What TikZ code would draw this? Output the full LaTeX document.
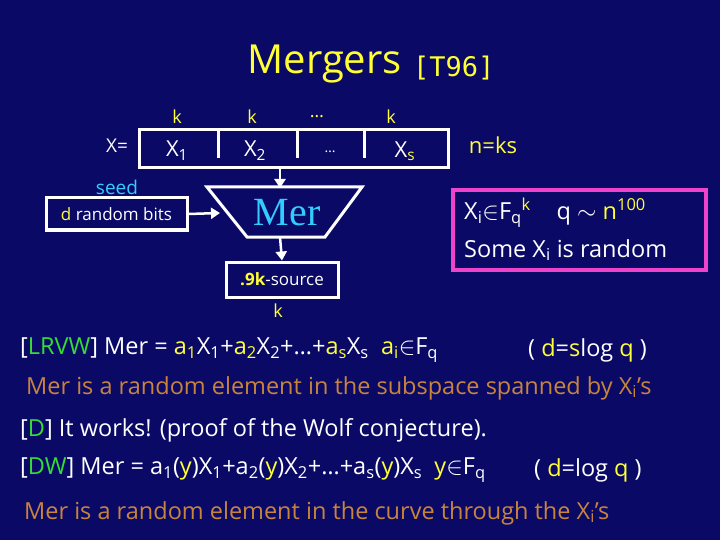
\documentclass[tikz,border=0pt]{standalone}
\usepackage{fontspec}
\setmainfont{Open Sans}
\newfontfamily\serifmer{Liberation Serif}
\newfontfamily\monot{DejaVu Sans Mono}
\definecolor{bgc}{HTML}{0A0A66}
\definecolor{yel}{HTML}{FFFF33}
\definecolor{cyn}{HTML}{33CCFF}
\definecolor{grn}{HTML}{33DD33}
\definecolor{brn}{HTML}{C8843C}
\definecolor{pnk}{HTML}{EE44CC}
\usetikzlibrary{arrows.meta}
\tikzset{wbox/.style={draw=white,line width=3pt},
 arr/.style={white,line width=2.5pt,-{Triangle[length=9pt,width=11pt]}},
 txt/.style={white,inner sep=0pt,font=\fontsize{23.5}{26}\selectfont,anchor=west}}
\begin{document}
\begin{tikzpicture}[x=1pt,y=-1pt]
\fill[bgc] (0,0) rectangle (720,540);
\useasboundingbox (0,0) rectangle (720,540);
\node[yel,font=\fontsize{40}{44}\selectfont,anchor=east,inner sep=0pt] (title) at (402,64) {Mergers};
\node[yel,font=\monot\fontsize{27}{32}\selectfont,anchor=west,inner sep=0pt] (t96) at (413,68) {[T96]};
% k labels
\foreach \x/\t [count=\i] in {177/k,252/k,317/\dots,391/k}
  \node[yel,font=\fontsize{18}{20}\selectfont] (k\i) at (\x,117) {\t};
\node[white,font=\fontsize{19}{20}\selectfont] (xeq) at (117,146) {X=};
\draw[wbox] (139,130) rectangle (448,168);
\foreach \x in {218,297,364} \draw[white,line width=3pt] (\x,130) -- (\x,158);
\node[white,font=\fontsize{22}{24}\selectfont] (x1) at (177,151) {X\textsubscript{1}};
\node[white,font=\fontsize{22}{24}\selectfont] (x2) at (255,151) {X\textsubscript{2}};
\node[white,font=\fontsize{14}{16}\selectfont] (xd) at (330,152) {\dots};
\node[white,font=\fontsize{22}{24}\selectfont] (xs) at (405,151) {X\textsubscript{\color{yel}s}};
\node[yel,font=\fontsize{22}{24}\selectfont] (nks) at (493,145) {n=ks};
% Mer trapezoid
\draw[wbox] (207,187) -- (362,187) -- (325,237) -- (247,237) -- cycle;
\node[cyn,font=\serifmer\fontsize{40}{42}\selectfont] (mer) at (287,213) {Mer};
\coordinate (xbot) at (280,166);
\coordinate (mtop) at (280,188);
\coordinate (mleft) at (220,213);
\coordinate (mbot) at (280,237);
\draw[arr] (xbot) -- (mtop);
% seed
\node[cyn,font=\fontsize{19}{22}\selectfont] (seed) at (117,187) {seed};
\node[draw=white,line width=3pt,minimum width=141pt,minimum height=32pt,inner sep=0pt] (rb) at (116.5,214) {};
\node[white,font=\fontsize{17}{20}\selectfont] at (rb) {\color{yel}d\color{white}\ random bits};
\draw[arr] (rb.east) -- (mleft);
% source
\node[draw=white,line width=3pt,minimum width=112pt,minimum height=35pt,inner sep=0pt] (src) at (282,279.5) {};
\node[white,font=\fontsize{17}{20}\selectfont] at (src) {\color{yel}\textbf{.9k}\color{white}-source};
\draw[arr] (mbot) -- (src.north);
\node[yel,font=\fontsize{18}{20}\selectfont] (kb) at (278,311) {k};
% pink box
\node[draw=pnk,line width=4.5pt,minimum width=253pt,minimum height=80pt,inner sep=0pt] (pb) at (579.5,230) {};
\node[txt] (p1) at (464,213) {X\textsubscript{i}$\in$F\textsubscript{q}\textsuperscript{\color{yel}k}\hspace{1.1em}q $\sim$ \color{yel}n\textsuperscript{100}};
\node[txt] (p2) at (464,250) {Some X\textsubscript{i} is random};
% bottom text
\node[txt] (l1) at (20,350) {[\textcolor{grn}{LRVW}] Mer = \textcolor{yel}{a\textsubscript{1}}X\textsubscript{1}+\textcolor{yel}{a\textsubscript{2}}X\textsubscript{2}+\dots+\textcolor{yel}{a\textsubscript{s}}X\textsubscript{s}\ \ \textcolor{yel}{a\textsubscript{i}}$\in$F\textsubscript{q}};
\node[txt] (l1b) at (528,350) {( \textcolor{yel}{d}=\textcolor{yel}{s}log \textcolor{yel}{q} )};
\node[txt,brn] (l2) at (26,388) {Mer is a random element in the subspace spanned by X\textsubscript{i}'s};
\node[txt] (l3) at (20,430) {[\textcolor{grn}{D}] It works! (proof of the Wolf conjecture).};
\node[txt] (l4) at (20,470) {[\textcolor{grn}{DW}] Mer = a\textsubscript{1}(\textcolor{yel}{y})X\textsubscript{1}+a\textsubscript{2}(\textcolor{yel}{y})X\textsubscript{2}+\dots+a\textsubscript{s}(\textcolor{yel}{y})X\textsubscript{s}\ \ \textcolor{yel}{y}$\in$F\textsubscript{q}};
\node[txt] (l4b) at (534,470) {( \textcolor{yel}{d}=log \textcolor{yel}{q} )};
\node[txt,brn] (l5) at (24,513) {Mer is a random element in the curve through the X\textsubscript{i}'s};
\end{tikzpicture}
\end{document}
